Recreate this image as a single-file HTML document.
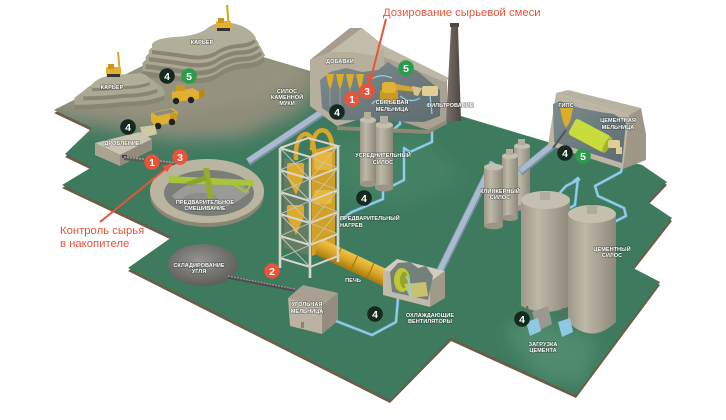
<!DOCTYPE html>
<html><head><meta charset="utf-8">
<style>
html,body{margin:0;padding:0;background:#fff;}
svg{display:block;}
.l{font-family:"Liberation Sans","DejaVu Sans",sans-serif;font-weight:bold;font-size:5.6px;fill:#fff;text-anchor:middle;stroke:rgba(25,35,30,0.5);stroke-width:1.1px;paint-order:stroke;}
.b{font-family:"Liberation Sans","DejaVu Sans",sans-serif;font-weight:bold;font-size:10.5px;fill:#fff;text-anchor:middle;}
.r{font-family:"Liberation Sans","DejaVu Sans",sans-serif;font-size:11.3px;fill:#e8533a;}
</style></head><body>
<svg width="726" height="420" viewBox="0 0 726 420" xmlns="http://www.w3.org/2000/svg">
<defs>
 <filter id="bl" x="-30%" y="-30%" width="160%" height="160%"><feGaussianBlur stdDeviation="9"/></filter>
 <filter id="bl2" x="-30%" y="-30%" width="160%" height="160%"><feGaussianBlur stdDeviation="5"/></filter>
 <clipPath id="plat"><polygon points="54,110 199,38 320,74 548,142 642,165 667,182 648,202 672,218 633,268 660,282 576,395 451,338 390,400 128,268 172,237 62,185 92,167 65,154 92,128"/></clipPath>
 <linearGradient id="silo" x1="0" x2="1" y1="0" y2="0">
  <stop offset="0" stop-color="#9d9887"/><stop offset="0.35" stop-color="#bdb8a7"/><stop offset="1" stop-color="#8d887a"/>
 </linearGradient>
 <linearGradient id="kiln" x1="0" x2="0" y1="0" y2="1">
  <stop offset="0" stop-color="#f0c44a"/><stop offset="0.45" stop-color="#dba92a"/><stop offset="1" stop-color="#a57a12"/>
 </linearGradient>
 <radialGradient id="coal" cx="0.45" cy="0.4" r="0.6">
  <stop offset="0" stop-color="#95948f"/><stop offset="1" stop-color="#5f5e5b"/>
 </radialGradient>
 <linearGradient id="inter" x1="0" x2="1" y1="0" y2="1">
  <stop offset="0" stop-color="#7e8c8e"/><stop offset="1" stop-color="#5d6c70"/>
 </linearGradient>
 <linearGradient id="chim" x1="0" x2="1">
  <stop offset="0" stop-color="#7a706a"/><stop offset="1" stop-color="#4f4743"/>
 </linearGradient>
</defs>

<!-- platform -->
<polygon fill="#6d5a47" transform="translate(0,3)" points="54,110 199,38 320,74 548,142 642,165 667,182 648,202 672,218 633,268 660,282 576,395 451,338 390,400 128,268 172,237 62,185 92,167 65,154 92,128"/>
<polygon fill="#3d7a5e" points="54,110 199,38 320,74 548,142 642,165 667,182 648,202 672,218 633,268 660,282 576,395 451,338 390,400 128,268 172,237 62,185 92,167 65,154 92,128"/>
<g clip-path="url(#plat)">
 <polygon fill="#8e8d7a" filter="url(#bl)" points="30,100 199,20 330,70 300,112 240,138 170,140 110,128 60,122"/>
 <polygon fill="#959380" filter="url(#bl2)" points="60,105 199,30 310,70 260,100 190,112 120,112"/>
 <polygon fill="#68a07f" opacity="0.45" filter="url(#bl)" points="500,330 535,315 600,340 585,385 540,380"/>
 <polygon fill="#4d8a6b" opacity="0.5" filter="url(#bl)" points="330,140 420,130 470,180 400,210 340,190"/>
</g>

<!-- big bands -->
<g stroke-linecap="butt">
 <line x1="248" y1="162" x2="326" y2="110" stroke="#7a8ea3" stroke-width="8"/>
 <line x1="248" y1="161" x2="326" y2="109" stroke="#a9bccf" stroke-width="5.5"/>
 <line x1="440" y1="271" x2="493" y2="163" stroke="#7a8ea3" stroke-width="8"/>
 <line x1="440" y1="270" x2="493" y2="162" stroke="#a9bccf" stroke-width="5.5"/>
</g>

<!-- big mountain -->
<g id="bigm">
 <g transform="translate(205,58) scale(1.18,1.3) translate(-205,-40)">
  <path transform="translate(0,4)" fill="#888571" d="M152,44 Q156,38 175,37 Q195,36 205,30 Q213,23 224,22 Q248,24 256,38 Q250,44 238,44 Q225,45 215,52 Q205,57 190,55 Q170,52 152,50 Z"/>
  <path fill="#a7a48f" d="M152,44 Q156,38 175,37 Q195,36 205,30 Q213,23 224,22 Q248,24 256,38 Q250,44 238,44 Q225,45 215,52 Q205,57 190,55 Q170,52 152,50 Z"/>
 </g>
 <g transform="translate(205,52) scale(1.12,1.2) translate(-205,-40)">
  <path transform="translate(0,4)" fill="#888571" d="M152,44 Q156,38 175,37 Q195,36 205,30 Q213,23 224,22 Q248,24 256,38 Q250,44 238,44 Q225,45 215,52 Q205,57 190,55 Q170,52 152,50 Z"/>
  <path fill="#aaa792" d="M152,44 Q156,38 175,37 Q195,36 205,30 Q213,23 224,22 Q248,24 256,38 Q250,44 238,44 Q225,45 215,52 Q205,57 190,55 Q170,52 152,50 Z"/>
 </g>
 <g transform="translate(205,46) scale(1.06,1.1) translate(-205,-40)">
  <path transform="translate(0,4)" fill="#888571" d="M152,44 Q156,38 175,37 Q195,36 205,30 Q213,23 224,22 Q248,24 256,38 Q250,44 238,44 Q225,45 215,52 Q205,57 190,55 Q170,52 152,50 Z"/>
  <path fill="#adaa95" d="M152,44 Q156,38 175,37 Q195,36 205,30 Q213,23 224,22 Q248,24 256,38 Q250,44 238,44 Q225,45 215,52 Q205,57 190,55 Q170,52 152,50 Z"/>
 </g>
 <path transform="translate(0,4)" fill="#888571" d="M152,44 Q156,38 175,37 Q195,36 205,30 Q213,23 224,22 Q248,24 256,38 Q250,44 238,44 Q225,45 215,52 Q205,57 190,55 Q170,52 152,50 Z"/>
 <path fill="#b1ae99" d="M152,44 Q156,38 175,37 Q195,36 205,30 Q213,23 224,22 Q248,24 256,38 Q250,44 238,44 Q225,45 215,52 Q205,57 190,55 Q170,52 152,50 Z"/>
</g>
<!-- small mountain -->
<g>
 <g transform="translate(118,92) scale(1.56,1.6) translate(-120,-80)">
  <path transform="translate(0,3)" fill="#888571" d="M92,84 Q100,76 115,75 Q130,74 140,73 Q150,75 150,82 Q140,86 125,86 Q108,88 92,88 Z"/>
  <path fill="#a7a48f" d="M92,84 Q100,76 115,75 Q130,74 140,73 Q150,75 150,82 Q140,86 125,86 Q108,88 92,88 Z"/>
 </g>
 <g transform="translate(119,86) scale(1.28,1.3) translate(-120,-80)">
  <path transform="translate(0,3)" fill="#888571" d="M92,84 Q100,76 115,75 Q130,74 140,73 Q150,75 150,82 Q140,86 125,86 Q108,88 92,88 Z"/>
  <path fill="#aba893" d="M92,84 Q100,76 115,75 Q130,74 140,73 Q150,75 150,82 Q140,86 125,86 Q108,88 92,88 Z"/>
 </g>
 <path transform="translate(0,3)" fill="#888571" d="M92,84 Q100,76 115,75 Q130,74 140,73 Q150,75 150,82 Q140,86 125,86 Q108,88 92,88 Z"/>
 <path fill="#b0ad98" d="M92,84 Q100,76 115,75 Q130,74 140,73 Q150,75 150,82 Q140,86 125,86 Q108,88 92,88 Z"/>
</g>

<!-- excavators -->
<g>
 <line x1="229" y1="28" x2="227" y2="5" stroke="#d9a82a" stroke-width="2.2"/>
 <rect x="216" y="21" width="15" height="8" rx="1.5" fill="#e2b130"/>
 <rect x="218" y="18" width="6" height="5" fill="#c8961c"/>
 <rect x="217" y="28" width="13" height="3" fill="#333"/>
 <line x1="120" y1="74" x2="118" y2="52" stroke="#d9a82a" stroke-width="2"/>
 <rect x="106" y="67" width="15" height="8" rx="1.5" fill="#e2b130"/>
 <rect x="108" y="64" width="6" height="5" fill="#c8961c"/>
 <rect x="107" y="74" width="13" height="3" fill="#333"/>
</g>
<!-- loader -->
<g>
 <polygon points="172,92 193,88 199,92 199,99 176,102 172,99" fill="#e0b030"/>
 <rect x="176" y="85" width="9" height="6" fill="#c99a1f"/>
 <polygon points="199,91 204,88 205,96 200,98" fill="#b58a1a"/>
 <circle cx="176" cy="101" r="3.2" fill="#222"/><circle cx="191" cy="100" r="3.2" fill="#222"/>
</g>
<!-- dump truck -->
<g>
 <polygon points="151,113 172,108 178,112 176,122 155,126 151,121" fill="#e0b030"/>
 <polygon points="153,113 171,109 175,112 157,116" fill="#8a8a86"/>
 <rect x="170" y="113" width="7" height="6" fill="#c99a1f"/>
 <circle cx="158" cy="126" r="3.3" fill="#222"/><circle cx="172" cy="122" r="3.3" fill="#222"/>
</g>

<!-- crusher building -->
<g>
 <polygon points="140,127 155,125 157,134 143,138" fill="#cfc9a4"/>
 <polygon points="95,143 140,132 152,139 120,155" fill="#cac4b2"/>
 <polygon points="95,143 120,155 120,166 95,155" fill="#aaa392"/>
 <polygon points="120,155 152,139 152,150 120,166" fill="#938c7c"/>
 <rect x="122" y="155" width="5" height="3" fill="#444"/>
</g>
<!-- conveyor crusher -> preblend -->
<line x1="124" y1="158" x2="178" y2="164" stroke="#5e5c57" stroke-width="4"/>
<line x1="124" y1="157" x2="178" y2="163" stroke="#a19e94" stroke-width="1.6" stroke-dasharray="2 1"/>

<!-- pre-blending -->
<g>
 <ellipse cx="207" cy="195" rx="57" ry="32" fill="#8a8672"/>
 <ellipse cx="207" cy="191" rx="57" ry="32" fill="#bab5a0"/>
 <ellipse cx="209" cy="193" rx="45" ry="23" fill="#7b7d78"/>
 <path d="M172,196 Q190,178 215,182 Q240,178 250,192 Q230,210 205,210 Q182,208 172,196Z" fill="#9a9b96"/>
 <ellipse cx="200" cy="200" rx="18" ry="7" fill="#8c8d88"/>
 <polygon points="168,176 253,180 254,186 170,183" fill="#a7c43c"/>
 <polygon points="228,181 252,183 246,192" fill="none" stroke="#a7c43c" stroke-width="2"/>
 <polygon points="203,168 209,168 214,198 208,199" fill="#93ad33"/>
 <polygon points="185,183 205,175 207,180 190,186" fill="#8aa22e"/>
</g>

<!-- coal pile -->
<ellipse cx="203" cy="265" rx="35" ry="21" fill="url(#coal)"/>
<line x1="228" y1="277" x2="295" y2="290" stroke="#4f4d4a" stroke-width="3.5"/>
<line x1="228" y1="276" x2="295" y2="289" stroke="#9a97a0" stroke-width="1.4" stroke-dasharray="2 1"/>
<!-- coal mill -->
<g>
 <polygon points="288,298 303,285 338,293 322,306" fill="#a9a091"/>
 <polygon points="288,298 322,306 322,334 290,326" fill="#bcb2a1"/>
 <polygon points="322,306 338,293 338,321 322,334" fill="#968d7e"/>
 <rect x="301" y="322" width="3" height="6" fill="#8d8475"/>
</g>

<!-- pipes (light blue) -->
<g fill="none" stroke-linejoin="round">
 <g stroke="#4f8ea6" stroke-width="3.4">
  <polyline points="336,321 372,335 396,322 398,298"/>
  <polyline points="383,188 383,199 352,212 340,220"/>
  <polyline points="393,130 400,124 400,116"/>
  <polyline points="432,115 432,142 410,152 404,148 404,180 392,186"/>
  <polyline points="625,152 621,172 595,186 598,196 624,208 626,216 614,222"/>
  <polyline points="580,179 566,186 557,196"/>
  <polyline points="573,182 578,178 575,205 566,210"/>
 </g>
 <g stroke="#92cde0" stroke-width="2.2">
  <polyline points="336,321 372,335 396,322 398,298"/>
  <polyline points="383,188 383,199 352,212 340,220"/>
  <polyline points="393,130 400,124 400,116"/>
  <polyline points="432,115 432,142 410,152 404,148 404,180 392,186"/>
  <polyline points="625,152 621,172 595,186 598,196 624,208 626,216 614,222"/>
  <polyline points="580,179 566,186 557,196"/>
  <polyline points="573,182 578,178 575,205 566,210"/>
 </g>
</g>

<!-- additives / raw mill building -->
<g>
 <polygon points="372,52 384,46 447,80 447,120 428,130 372,112" fill="#a9a292"/>
 <polygon points="372,52 384,46 449,78 445,82" fill="#bdb7a6"/>
 <polygon points="310,60 350,28 362,28 384,46 384,112 337,126 310,106" fill="#b6af9e"/>
 <polygon points="310,60 350,28 362,28 330,52" fill="#a59e8d"/>
 <polygon points="330,52 362,28 384,46 376,56 352,52" fill="#c2bcab"/>
 <polygon points="320,80 330,72 346,68 362,72 378,70 388,62 400,70 416,70 440,90 440,116 424,122 340,120 322,108" fill="url(#inter)"/>
 <polygon points="337,126 428,130 447,120 447,124 428,134 337,130" fill="#8f8878"/>
 <g fill="#d9ad2a">
  <polygon points="326,74 334,74 332,84 330,90 328,84"/>
  <polygon points="336,74 344,74 342,84 340,90 338,84"/>
  <polygon points="346,74 354,74 352,84 350,90 348,84"/>
  <polygon points="356,74 364,74 362,84 360,90 358,84"/>
 </g>
 <g stroke="#9aa4a6" stroke-width="0.8">
  <line x1="330" y1="90" x2="330" y2="106"/><line x1="340" y1="90" x2="340" y2="106"/><line x1="350" y1="90" x2="350" y2="106"/>
 </g>
 <rect x="380" y="90" width="18" height="12" rx="2" fill="#c99a25"/>
 <rect x="382" y="82" width="14" height="11" rx="3" fill="#e0b23a"/>
 <polygon points="396,84 418,88 418,92 396,90" fill="#d2a535"/>
 <polygon points="412,86 422,88 418,96 414,95" fill="#d8c48a"/>
 <rect x="422" y="86" width="16" height="10" rx="2" fill="#dfcf92"/>
 <g fill="none" stroke="#92cde0" stroke-width="1.3">
  <path d="M368,82 Q378,72 392,78"/><path d="M400,96 Q410,104 420,98"/><path d="M372,104 Q378,96 388,104"/><path d="M430,96 L432,114"/>
 </g>
</g>
<!-- chimney -->
<polygon points="451,27 458,27 461,121 446,121" fill="url(#chim)"/>
<rect x="450" y="23" width="9" height="4" fill="#4f4743"/>

<!-- homogenizing silos -->
<g>
 <rect x="375" y="125" width="18" height="63" fill="url(#silo)"/>
 <ellipse cx="384" cy="188" rx="9" ry="3.5" fill="#9a9584"/>
 <ellipse cx="384" cy="125" rx="9" ry="3.5" fill="#c4bfae"/>
 <rect x="380" y="116" width="8" height="8" fill="#b3ae9d"/>
 <rect x="360" y="120" width="16" height="64" fill="url(#silo)"/>
 <ellipse cx="368" cy="184" rx="8" ry="3.2" fill="#9a9584"/>
 <ellipse cx="368" cy="120" rx="8" ry="3.2" fill="#c4bfae"/>
 <rect x="364" y="112" width="7" height="7" fill="#b3ae9d"/>
</g>

<!-- preheater tower -->
<g>
 <polygon points="312,150 335,145 335,248 312,256" fill="#d1a024"/>
 <polygon points="284,158 308,163 308,255 284,248" fill="#8a8068" opacity="0.5"/>
 <g fill="#dcab2d">
  <rect x="287" y="163" width="17" height="14" rx="2"/><polygon points="287,177 304,177 296,195"/>
  <rect x="287" y="205" width="17" height="12" rx="2"/><polygon points="287,217 304,217 296,235"/>
  <rect x="314" y="152" width="18" height="18" rx="2" fill="#e6b63a"/>
  <rect x="314" y="190" width="18" height="14" rx="2" fill="#e6b63a"/>
 </g>
 <g transform="rotate(25 318 246)">
  <rect x="318" y="238" width="78" height="17" rx="3" fill="url(#kiln)"/>
  <g stroke="#a57a12" stroke-width="1.2"><line x1="340" y1="238" x2="340" y2="255"/><line x1="358" y1="238" x2="358" y2="255"/><line x1="376" y1="238" x2="376" y2="255"/></g>
 </g>
 <g fill="none" stroke="#d9a62a" stroke-width="4.5">
  <path d="M296,160 C294,128 314,126 314,152"/>
  <path d="M312,150 C312,124 332,124 332,148"/>
 </g>
 <g stroke="#d9d6cc" fill="none">
  <g stroke-width="2.6">
   <line x1="280" y1="148" x2="280" y2="268"/>
   <line x1="310" y1="157" x2="310" y2="278"/>
   <line x1="338" y1="146" x2="338" y2="262"/>
  </g>
  <g stroke-width="2">
   <polyline points="280,148 310,157 338,146 308,138 280,148"/>
   <polyline points="280,170 310,179 338,168"/>
   <polyline points="280,192 310,201 338,190"/>
   <polyline points="280,214 310,223 338,212"/>
   <polyline points="280,236 310,245 338,234"/>
   <polyline points="280,258 310,267 338,256"/>
  </g>
  <g stroke-width="0.9" stroke="#c9c5ba">
   <path d="M280,148 L310,179 M310,157 L280,170 M280,170 L310,201 M310,179 L280,192 M280,192 L310,223 M310,201 L280,214 M280,214 L310,245 M310,223 L280,236 M280,236 L310,267 M310,245 L280,258"/>
   <path d="M310,157 L338,168 M338,146 L310,179 M310,179 L338,190 M338,168 L310,201 M310,201 L338,212 M338,190 L310,223 M310,223 L338,234 M338,212 L310,245"/>
  </g>
 </g>
</g>

<!-- cooler building -->
<g>
 <polygon points="383,270 397,259 445,271 430,282" fill="#d3cdbd"/>
 <polygon points="383,270 430,282 430,307 383,295" fill="#c1baa9"/>
 <polygon points="430,282 445,271 445,298 430,307" fill="#a19a89"/>
 <polygon points="390,272 398,263 410,262 418,268 426,266 433,276 428,300 392,292" fill="#74807c"/>
 <ellipse cx="402" cy="280" rx="8" ry="12" fill="#bcc935"/>
 <ellipse cx="404" cy="280" rx="4" ry="8" fill="#96a22a"/>
 <polygon points="404,284 426,282 428,296 410,298" fill="#c7c170"/>
 <path d="M410,297 Q412,285 406,276" fill="none" stroke="#92cde0" stroke-width="1.8"/>
</g>

<!-- clinker silos -->
<g>
 <rect x="514" y="146" width="16" height="62" fill="url(#silo)"/>
 <ellipse cx="522" cy="146" rx="8" ry="3" fill="#c4bfae"/><ellipse cx="522" cy="208" rx="8" ry="3" fill="#9a9584"/>
 <rect x="518" y="139" width="7" height="6" fill="#b3ae9d"/>
 <rect x="502" y="156" width="16" height="62" fill="url(#silo)"/>
 <ellipse cx="510" cy="156" rx="8" ry="3" fill="#c4bfae"/><ellipse cx="510" cy="218" rx="8" ry="3" fill="#9a9584"/>
 <rect x="506" y="149" width="7" height="6" fill="#b3ae9d"/>
 <rect x="484" y="167" width="19" height="59" fill="url(#silo)"/>
 <ellipse cx="493.5" cy="167" rx="9.5" ry="3.3" fill="#c4bfae"/><ellipse cx="493.5" cy="226" rx="9.5" ry="3.3" fill="#9a9584"/>
</g>
<line x1="520" y1="172" x2="563" y2="137" stroke="#7a8ea3" stroke-width="8"/>
<line x1="520" y1="171" x2="563" y2="136" stroke="#a9bccf" stroke-width="5.5"/>

<!-- cement mill building -->
<g>
 <polygon points="556,93 568,90 641,108 629,115" fill="#b9b2a1"/>
 <polygon points="556,93 629,115 623,169 548,145" fill="#bdb6a5"/>
 <polygon points="629,115 641,108 646,134 646,160 623,169" fill="#9f9888"/>
 <polygon points="553,104 560,101 580,108 600,112 614,114 626,122 622,163 554,142" fill="url(#inter)"/>
 <polygon points="560,108 573,108 570,122 566,128 563,122" fill="#d9ad2a"/>
 <g transform="rotate(28 572 126)">
  <rect x="572" y="117" width="40" height="18" rx="3" fill="#c8dd3c"/>
  <ellipse cx="612" cy="126" rx="3" ry="9" fill="#a3b52c"/>
 </g>
 <rect x="608" y="140" width="12" height="8" rx="2" fill="#dfcf92"/>
 <rect x="616" y="147" width="6" height="7" fill="#dfcf92"/>
 <line x1="553" y1="148" x2="566" y2="130" stroke="#555" stroke-width="2"/>
</g>

<!-- cement silos -->
<g>
 <path d="M521,200 L521,306 Q545,318 570,306 L570,200 Z" fill="url(#silo)"/>
 <g stroke="#6d6858" stroke-width="2"><line x1="527" y1="306" x2="529" y2="318"/><line x1="545" y1="312" x2="545" y2="322"/><line x1="563" y1="308" x2="561" y2="318"/></g>
 <ellipse cx="545.5" cy="200" rx="24.5" ry="9" fill="#c4bfae"/>
 <rect x="540" y="192" width="10" height="8" fill="#b0ab9a"/>
 <path d="M568,214 L568,322 Q592,345 616,322 L616,214 Z" fill="url(#silo)"/>
 <ellipse cx="592" cy="214" rx="24" ry="9" fill="#c4bfae"/>
 <rect x="587" y="205" width="10" height="9" fill="#b0ab9a"/>
 <polygon points="532,312 548,306 552,324 538,331" fill="#9a9890"/>
 <polygon points="526,322 538,318 541,331 530,336" fill="#8fc8e2"/>
 <polygon points="558,322 570,318 573,332 562,337" fill="#8fc8e2"/>
</g>

<!-- labels -->
<g class="l">
 <text x="202" y="44">КАРЬЕР</text>
 <text x="112" y="89">КАРЬЕР</text>
 <text x="122" y="145">ДРОБЛЕНИЕ</text>
 <text x="287" y="93">СИЛОС</text><text x="287" y="99">КАМЕННОЙ</text><text x="287" y="105">МУКИ</text>
 <text x="340" y="63">ДОБАВКИ</text>
 <text x="392" y="104">СЫРЬЕВАЯ</text><text x="392" y="111">МЕЛЬНИЦА</text>
 <text x="450" y="107">ФИЛЬТРОВАНИЕ</text>
 <text x="566" y="107">ГИПС</text>
 <text x="618" y="122">ЦЕМЕНТНАЯ</text><text x="618" y="129">МЕЛЬНИЦА</text>
 <text x="383" y="157">УСРЕДНИТЕЛЬНЫЙ</text><text x="383" y="164">СИЛОС</text>
 <text x="340" y="220" text-anchor="start">ПРЕДВАРИТЕЛЬНЫЙ</text><text x="340" y="227" text-anchor="start">НАГРЕВ</text>
 <text x="353" y="282">ПЕЧЬ</text>
 <text x="307" y="306">УГОЛЬНАЯ</text><text x="307" y="313">МЕЛЬНИЦА</text>
 <text x="430" y="317">ОХЛАЖДАЮЩИЕ</text><text x="430" y="323">ВЕНТИЛЯТОРЫ</text>
 <text x="500" y="193">КЛИНКЕРНЫЙ</text><text x="500" y="199">СИЛОС</text>
 <text x="612" y="251">ЦЕМЕНТНЫЙ</text><text x="612" y="257">СИЛОС</text>
 <text x="543" y="346">ЗАГРУЗКА</text><text x="543" y="352">ЦЕМЕНТА</text>
 <text x="205" y="204">ПРЕДВАРИТЕЛЬНОЕ</text><text x="205" y="210">СМЕШИВАНИЕ</text>
 <text x="199" y="267">СКЛАДИРОВАНИЕ</text><text x="199" y="273">УГЛЯ</text>
</g>

<!-- badges -->
<g>
 <circle cx="167" cy="76" r="7.8" fill="#15291f"/><text class="b" x="167" y="79.8">4</text>
 <circle cx="189" cy="76" r="7.8" fill="#2c9b4c"/><text class="b" x="189" y="79.8">5</text>
 <circle cx="128" cy="127" r="7.8" fill="#15291f"/><text class="b" x="128" y="130.8">4</text>
 <circle cx="152" cy="162" r="7.8" fill="#e8533a"/><text class="b" x="152" y="165.8">1</text>
 <circle cx="180" cy="157" r="7.8" fill="#e8533a"/><text class="b" x="180" y="160.8">3</text>
 <circle cx="352" cy="99" r="7.8" fill="#e8533a"/><text class="b" x="352" y="102.8">1</text>
 <circle cx="367" cy="91" r="7.8" fill="#e8533a"/><text class="b" x="367" y="94.8">3</text>
 <circle cx="337" cy="112" r="7.8" fill="#15291f"/><text class="b" x="337" y="115.8">4</text>
 <circle cx="406" cy="68" r="7.8" fill="#2c9b4c"/><text class="b" x="406" y="71.8">5</text>
 <circle cx="364" cy="198" r="7.8" fill="#15291f"/><text class="b" x="364" y="201.8">4</text>
 <circle cx="272" cy="271" r="7.8" fill="#e8533a"/><text class="b" x="272" y="274.8">2</text>
 <circle cx="375" cy="314" r="7.8" fill="#15291f"/><text class="b" x="375" y="317.8">4</text>
 <circle cx="565" cy="153" r="7.8" fill="#15291f"/><text class="b" x="565" y="156.8">4</text>
 <circle cx="583" cy="156" r="7.8" fill="#2c9b4c"/><text class="b" x="583" y="159.8">5</text>
 <circle cx="522" cy="319" r="7.8" fill="#15291f"/><text class="b" x="522" y="322.8">4</text>
</g>

<!-- red annotations -->
<g stroke="#e8533a" stroke-width="2" fill="#e8533a">
 <line x1="100" y1="222" x2="168" y2="167"/>
 <polygon points="173,163 162,166 167,172" stroke="none"/>
 <line x1="386" y1="19" x2="371" y2="78"/>
 <polygon points="369,85 366,74 374,76" stroke="none"/>
</g>
<text class="r" x="383" y="16">Дозирование сырьевой смеси</text>
<text class="r" x="60" y="234">Контроль сырья</text>
<text class="r" x="60" y="247">в накопителе</text>
</svg>
</body></html>
